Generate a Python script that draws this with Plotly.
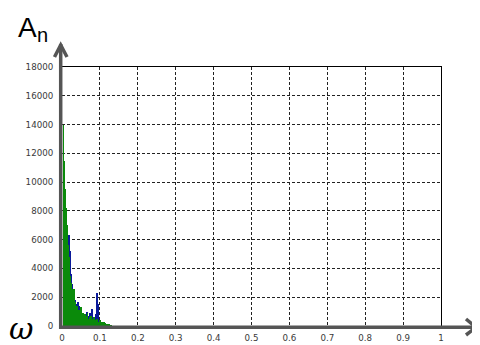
import plotly.graph_objects as go

# Spectrum data (frequency, amplitude)
freq_green = [0.004, 0.006, 0.008, 0.01, 0.0125, 0.015, 0.0175, 0.02, 0.0225, 0.025,
              0.0275, 0.03, 0.0325, 0.035, 0.0375, 0.04, 0.0425, 0.045, 0.0475, 0.05,
              0.0525, 0.055, 0.0575, 0.06, 0.0625, 0.065, 0.0675, 0.07, 0.0725, 0.075,
              0.0775, 0.08, 0.0825, 0.085, 0.0875, 0.09, 0.0925, 0.095, 0.0975, 0.1,
              0.1025, 0.105, 0.1075, 0.11, 0.1125, 0.115, 0.1175, 0.12, 0.1225, 0.125,
              0.1275, 0.13]
amp_green = [14000, 11500, 9500, 8200, 7000, 5600, 4800, 4200, 3500, 3000,
             2600, 2100, 2600, 1700, 1200, 1400, 900, 1100, 700, 1300,
             600, 900, 500, 800, 400, 700, 900, 500, 600, 400,
             700, 500, 300, 600, 250, 400, 500, 300, 200, 450,
             250, 300, 150, 250, 120, 200, 100, 150, 80, 100,
             50, 40]

freq_blue = [0.004, 0.006, 0.008, 0.01, 0.0125, 0.015, 0.0175, 0.02, 0.0225, 0.025,
             0.0275, 0.03, 0.035, 0.04, 0.0425, 0.045, 0.05, 0.055, 0.06, 0.065,
             0.07, 0.075, 0.08, 0.085, 0.09, 0.0925, 0.095, 0.1, 0.105]
amp_blue = [10500, 9000, 7500, 6500, 5500, 5000, 6300, 5200, 4200, 3600,
            2900, 2400, 1800, 1500, 1700, 1400, 1200, 900, 800, 1000,
            700, 900, 1200, 600, 800, 2300, 1500, 400, 200]

x_ticks = [0, 0.1, 0.2, 0.3, 0.4, 0.5, 0.6, 0.7, 0.8, 0.9, 1]
x_tick_text = ["0", "0.1", "0.2", "0.3", "0.4", "0.5", "0.6", "0.7", "0.8", "0.9", "1"]
y_ticks = [0, 2000, 4000, 6000, 8000, 10000, 12000, 14000, 16000, 18000]
y_tick_text = ["0", "2000", "4000", "6000", "8000", "10000", "12000", "14000", "16000", "18000"]

fig = go.Figure()
fig.add_trace(go.Bar(x=freq_blue, y=amp_blue, width=0.0025, marker=dict(color="#0a1a9a", line=dict(width=0))))
fig.add_trace(go.Bar(x=freq_green, y=amp_green, width=0.0021, marker=dict(color="#0a8a0a", line=dict(width=0))))

# the page body has an 8px margin, so the figure is drawn at (8, 8)
tick_font = dict(family="DejaVu Sans", size=8.7, color="#3a3a3a")
fig.update_layout(
    width=472, height=337,
    margin=dict(l=54, r=39, t=59, b=19),
    paper_bgcolor="white", plot_bgcolor="white",
    barmode="overlay", bargap=0, showlegend=False,
    xaxis=dict(range=[0, 1], tickvals=x_ticks, ticktext=x_tick_text, showgrid=True,
               gridcolor="#222222", griddash="3px,2px", gridwidth=1, zeroline=False,
               showline=True, linecolor="black", linewidth=1, mirror=True, automargin=False,
               ticks="", tickfont=tick_font, ticklabelstandoff=4),
    yaxis=dict(range=[0, 18000], tickvals=y_ticks, ticktext=y_tick_text, showgrid=True,
               gridcolor="#222222", griddash="3px,2px", gridwidth=1, zeroline=False,
               showline=True, linecolor="black", linewidth=1, mirror=True, automargin=False,
               ticks="", tickfont=tick_font, ticklabelstandoff=6),
)

gray = "#555555"
def px(xp):
    return (xp - 62) / 379.0
def py(yp):
    return (326 - yp) / 259.0

# thick axes with arrows
fig.add_shape(type="line", xref="paper", yref="paper", x0=px(60.7), y0=py(329), x1=px(60.7), y1=py(44),
              line=dict(color=gray, width=3.5), layer="above")
fig.add_shape(type="path", xref="paper", yref="paper",
              path=f"M {px(54.5)} {py(57)} L {px(60.7)} {py(45)} L {px(67)} {py(57)}",
              line=dict(color=gray, width=3.5), layer="above")
fig.add_shape(type="line", xref="paper", yref="paper", x0=px(59), y0=py(327.3), x1=px(476), y1=py(327.3),
              line=dict(color=gray, width=3.5), layer="above")
fig.add_shape(type="path", xref="paper", yref="paper",
              path=f"M {px(466)} {py(319)} L {px(476)} {py(327.3)} L {px(466)} {py(335)}",
              line=dict(color=gray, width=3.5), layer="above")

fig.add_annotation(xref="paper", yref="paper", x=px(27), y=py(27), text="A",
                   showarrow=False, font=dict(family="Liberation Sans", size=28, color="black"),
                   xanchor="center", yanchor="middle")
fig.add_annotation(xref="paper", yref="paper", x=px(42), y=py(35), text="n",
                   showarrow=False, font=dict(family="Liberation Sans", size=20, color="black"),
                   xanchor="center", yanchor="middle")
fig.add_annotation(xref="paper", yref="paper", x=px(21), y=py(328), text="<i>ω</i>",
                   showarrow=False, font=dict(family="DejaVu Serif", size=30, color="black"),
                   xanchor="center", yanchor="middle")

fig.write_html("out.html")
